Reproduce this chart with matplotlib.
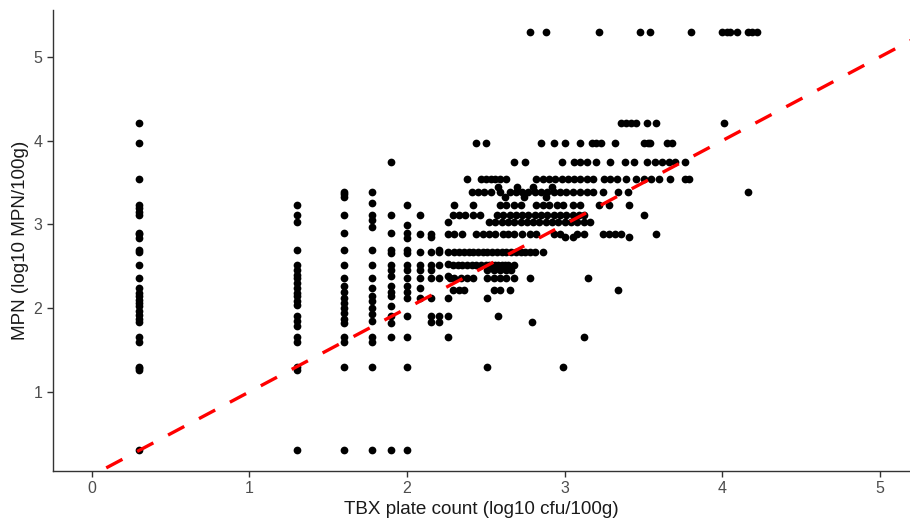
import matplotlib
matplotlib.use("Agg")
import matplotlib.pyplot as plt

plt.rcParams['font.family'] = ['Liberation Sans', 'DejaVu Sans']

# Left part of the plot: vertical columns of points (TBX value -> MPN values)
col_x = [0.30, 1.30, 1.60, 1.78, 1.90, 2.00, 2.08, 2.15, 2.20, 2.26]
col_y = [
    [0.30, 1.26, 1.28, 1.30, 1.60, 1.66, 1.83, 1.87, 1.92, 1.97, 2.02, 2.06, 2.10, 2.14,
     2.18, 2.24, 2.36, 2.51, 2.67, 2.69, 2.84, 2.88, 2.90, 3.11, 3.15, 3.20, 3.23, 3.54,
     3.97, 4.21],
    [0.30, 1.26, 1.30, 1.60, 1.66, 1.79, 1.85, 1.90, 2.04, 2.08, 2.14, 2.18, 2.24, 2.30,
     2.36, 2.40, 2.45, 2.51, 2.69, 3.03, 3.11, 3.23],
    [0.30, 1.30, 1.60, 1.66, 1.82, 1.87, 1.94, 2.00, 2.06, 2.12, 2.19, 2.26, 2.36, 2.51,
     2.69, 2.90, 3.11, 3.33, 3.36, 3.39],
    [0.30, 1.30, 1.60, 1.66, 1.85, 1.93, 2.00, 2.08, 2.15, 2.24, 2.36, 2.51, 2.69, 2.97,
     3.05, 3.11, 3.26, 3.39],
    [0.30, 1.66, 1.82, 1.90, 2.02, 2.14, 2.19, 2.26, 2.38, 2.45, 2.51, 2.66, 2.69, 2.90,
     3.11, 3.74],
    [0.30, 1.30, 1.66, 1.90, 2.12, 2.19, 2.26, 2.36, 2.45, 2.51, 2.66, 2.69, 2.84, 2.90,
     2.99, 3.23],
    [2.12, 2.24, 2.36, 2.45, 2.51, 2.67, 2.89, 3.11],
    [1.84, 1.90, 2.12, 2.36, 2.45, 2.51, 2.67, 2.85, 2.89],
    [1.84, 1.90, 2.36, 2.51, 2.67, 2.69],
    [1.65, 1.90, 2.12, 2.38, 2.53, 2.67, 2.89, 3.03],
]

# Right part of the plot: horizontal rows of points (MPN value -> TBX values)
row_y = [5.30, 4.21, 3.97, 3.74, 3.54, 3.45, 3.39, 3.33, 3.23, 3.11, 3.03, 2.89, 2.85,
         2.67, 2.51, 2.45, 2.36, 2.22, 2.12, 1.90, 1.84, 1.65, 1.30]
row_x = [
    [2.78, 2.88, 3.22, 3.48, 3.54, 3.80, 4.00, 4.03, 4.05, 4.09, 4.16, 4.19, 4.22],
    [3.36, 3.39, 3.42, 3.45, 3.52, 3.58, 4.01],
    [2.44, 2.50, 2.85, 2.93, 3.00, 3.10, 3.17, 3.20, 3.23, 3.32, 3.50, 3.53, 3.54, 3.65,
     3.68],
    [2.68, 2.75, 2.98, 3.06, 3.10, 3.14, 3.20, 3.29, 3.38, 3.44, 3.52, 3.57, 3.62, 3.66,
     3.70, 3.76],
    [2.38, 2.47, 2.50, 2.53, 2.56, 2.59, 2.63, 2.82, 2.86, 2.90, 2.94, 2.98, 3.02, 3.06,
     3.10, 3.14, 3.18, 3.25, 3.29, 3.33, 3.39, 3.45, 3.50, 3.55, 3.60, 3.67, 3.76, 3.79],
    [2.58, 2.70, 2.80, 2.92],
    [2.41, 2.45, 2.49, 2.53, 2.59, 2.65, 2.69, 2.73, 2.77, 2.81, 2.85, 2.89, 2.93, 2.97,
     3.01, 3.05, 3.10, 3.14, 3.18, 3.24, 3.34, 3.40, 4.16],
    [2.62, 2.74, 2.88],
    [2.30, 2.42, 2.59, 2.63, 2.68, 2.72, 2.82, 2.86, 2.90, 2.95, 2.99, 3.05, 3.10, 3.22,
     3.28, 3.41],
    [2.29, 2.33, 2.37, 2.42, 2.46, 2.57, 2.61, 2.65, 2.69, 2.73, 2.77, 2.81, 2.85, 2.89,
     2.93, 2.97, 3.01, 3.05, 3.09, 3.12, 3.50],
    [2.52, 2.56, 2.60, 2.64, 2.68, 2.72, 2.76, 2.80, 2.84, 2.88, 2.92, 2.96, 3.00, 3.04,
     3.08, 3.12, 3.16],
    [2.30, 2.35, 2.44, 2.48, 2.52, 2.56, 2.61, 2.64, 2.68, 2.73, 2.78, 2.82, 2.93, 2.97,
     3.08, 3.12, 3.24, 3.28, 3.32, 3.36, 3.58],
    [3.00, 3.05, 3.41],
    [2.30, 2.33, 2.36, 2.39, 2.42, 2.45, 2.48, 2.51, 2.54, 2.57, 2.60, 2.63, 2.66, 2.69,
     2.72, 2.75, 2.78, 2.81, 2.86],
    [2.29, 2.32, 2.35, 2.38, 2.41, 2.44, 2.47, 2.50, 2.52, 2.54, 2.56, 2.58, 2.60, 2.62,
     2.64, 2.68],
    [2.51, 2.55, 2.59, 2.63, 2.66],
    [2.27, 2.30, 2.34, 2.38, 2.42, 2.51, 2.55, 2.59, 2.63, 2.68, 2.78, 3.15],
    [2.29, 2.33, 2.36, 2.55, 2.59, 2.65, 3.34],
    [2.51],
    [2.58],
    [2.79],
    [3.12],
    [2.51, 2.99],
]

xs, ys = [], []
for x, yl in zip(col_x, col_y):
    xs += [x] * len(yl)
    ys += yl
for y, xl in zip(row_y, row_x):
    xs += xl
    ys += [y] * len(xl)

fig = plt.figure(figsize=(9.1, 5.24), dpi=100)
ax = fig.add_axes([0.058, 0.101, 0.942, 0.880])

ax.scatter(xs, ys, s=31, color='black', linewidths=0, zorder=2)

# 1:1 line
ax.plot([-0.3, 5.3], [-0.3, 5.3], color='#FF0000', linewidth=2.4,
        linestyle=(0, (5.5, 5.0)), zorder=3)

ax.set_xlim(-0.247, 5.19)
ax.set_ylim(0.054, 5.56)
ax.set_xticks([0, 1, 2, 3, 4, 5])
ax.set_yticks([1, 2, 3, 4, 5])

for side in ['top', 'right']:
    ax.spines[side].set_visible(False)
for side in ['left', 'bottom']:
    ax.spines[side].set_color('#333333')
    ax.spines[side].set_linewidth(1.0)

ax.tick_params(axis='both', colors='#333333', labelcolor='#4D4D4D', labelsize=11.5,
               length=4, width=1.0)

ax.set_xlabel('TBX plate count (log10 cfu/100g)', fontsize=13.6, color='#1a1a1a',
              labelpad=3)
ax.set_ylabel('MPN (log10 MPN/100g)', fontsize=13.6, color='#1a1a1a', labelpad=3)

fig.savefig('out.png', dpi=100)
